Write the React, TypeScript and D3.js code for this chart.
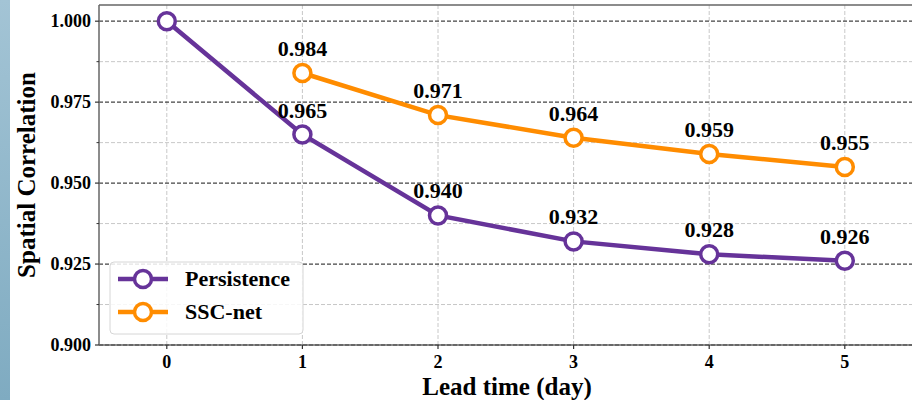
import React from "react";
import * as d3 from "d3";

const leadDays = [0, 1, 2, 3, 4, 5];
const persistence = [1.0, 0.965, 0.94, 0.932, 0.928, 0.926];
const sscDays = [1, 2, 3, 4, 5];
const sscNet = [0.984, 0.971, 0.964, 0.959, 0.955];
const yMajorTicks = [0.9, 0.925, 0.95, 0.975, 1.0];
const yMinorTicks = [0.9125, 0.9375, 0.9625, 0.9875];

const PURPLE = "#663399";
const ORANGE = "#ff8c00";
const FONT = "'Liberation Serif', 'Times New Roman', serif";

export default function App() {
  const W = 912;
  const H = 400;
  const left = 99;
  const top = 5;
  const bottom = 345;

  const x = d3.scaleLinear().domain([-0.5, 5.5]).range([left, left + 6 * 135.6]);
  const y = d3.scaleLinear().domain([0.9, 1.005]).range([bottom, top]);

  const line = d3
    .line<[number, number]>()
    .x(d => x(d[0]))
    .y(d => y(d[1]));

  const series = [
    { name: "Persistence", color: PURPLE, pts: leadDays.map((d, i) => [d, persistence[i]] as [number, number]) },
    { name: "SSC-net", color: ORANGE, pts: sscDays.map((d, i) => [d, sscNet[i]] as [number, number]) }
  ];

  return (
    <svg
      width={W}
      height={H}
      style={{ position: "absolute", left: 0, top: 0, background: "#fff" }}
      fontFamily={FONT}
      fontWeight="bold"
    >
      <defs>
        <linearGradient id="edge" x1="0" y1="0" x2="0" y2="1">
          <stop offset="0" stopColor="#a3c4d5" />
          <stop offset="1" stopColor="#7fabc1" />
        </linearGradient>
      </defs>
      <rect x={0} y={0} width={10} height={H} fill="url(#edge)" />

      {/* grid */}
      {yMinorTicks.map(t => (
        <line key={"mn" + t} x1={left} x2={W} y1={y(t)} y2={y(t)} stroke="#c8c8c8" strokeWidth={1} strokeDasharray="4,2" />
      ))}
      {leadDays.map(t => (
        <line key={"vx" + t} x1={x(t)} x2={x(t)} y1={top} y2={bottom} stroke="#c8c8c8" strokeWidth={1} strokeDasharray="4,2" />
      ))}
      {yMajorTicks.map(t => (
        <line key={"mj" + t} x1={left} x2={W} y1={y(t)} y2={y(t)} stroke="#444" strokeWidth={1.3} strokeDasharray="4,2" />
      ))}

      {/* spines */}
      <line x1={left} x2={W} y1={top} y2={top} stroke="#666" strokeWidth={1.5} />
      <line x1={left} x2={left} y1={top} y2={bottom} stroke="#666" strokeWidth={1.5} />
      <line x1={left} x2={W} y1={bottom} y2={bottom} stroke="#666" strokeWidth={1.5} />

      {/* y ticks */}
      {yMajorTicks.map(t => (
        <g key={"yt" + t}>
          <line x1={left - 4} x2={left} y1={y(t)} y2={y(t)} stroke="#333" strokeWidth={1.2} />
          <text x={left - 8} y={y(t)} dy="0.35em" textAnchor="end" fontSize={18}>
            {d3.format(".3f")(t)}
          </text>
        </g>
      ))}
      {yMinorTicks.map(t => (
        <line key={"ymt" + t} x1={left - 2.5} x2={left} y1={y(t)} y2={y(t)} stroke="#333" strokeWidth={1} />
      ))}

      {/* x ticks */}
      {leadDays.map(t => (
        <g key={"xt" + t}>
          <line x1={x(t)} x2={x(t)} y1={bottom} y2={bottom + 4} stroke="#333" strokeWidth={1.2} />
          <text x={x(t)} y={368} textAnchor="middle" fontSize={18}>
            {t}
          </text>
        </g>
      ))}

      <text x={507} y={395} textAnchor="middle" fontSize={25}>
        Lead time (day)
      </text>
      <text transform={`translate(35,${(top + bottom) / 2}) rotate(-90)`} textAnchor="middle" fontSize={25}>
        Spatial Correlation
      </text>

      {/* series */}
      {series.map(s => (
        <g key={s.name}>
          <path d={line(s.pts) || ""} fill="none" stroke={s.color} strokeWidth={4.5} />
          {s.pts.map(p => (
            <circle key={p[0]} cx={x(p[0])} cy={y(p[1])} r={8.5} fill="#fff" stroke={s.color} strokeWidth={3.5} />
          ))}
          {s.pts
            .filter(p => p[0] > 0)
            .map(p => (
              <text key={"l" + p[0]} x={x(p[0])} y={y(p[1]) - 17} textAnchor="middle" fontSize={22}>
                {d3.format(".3f")(p[1])}
              </text>
            ))}
        </g>
      ))}

      {/* legend */}
      <g>
        <rect x={110} y={262} width={193} height={72} rx={4} fill="#fff" fillOpacity={0.85} stroke="#d6d6d6" strokeWidth={1} />
        {series.map((s, i) => {
          const cy = 279 + i * 33;
          return (
            <g key={"lg" + s.name}>
              <line x1={118} x2={168} y1={cy} y2={cy} stroke={s.color} strokeWidth={4.5} />
              <circle cx={143} cy={cy} r={8.5} fill="#fff" stroke={s.color} strokeWidth={3.5} />
              <text x={185} y={cy} dy="0.33em" fontSize={22}>
                {s.name}
              </text>
            </g>
          );
        })}
      </g>
    </svg>
  );
}
